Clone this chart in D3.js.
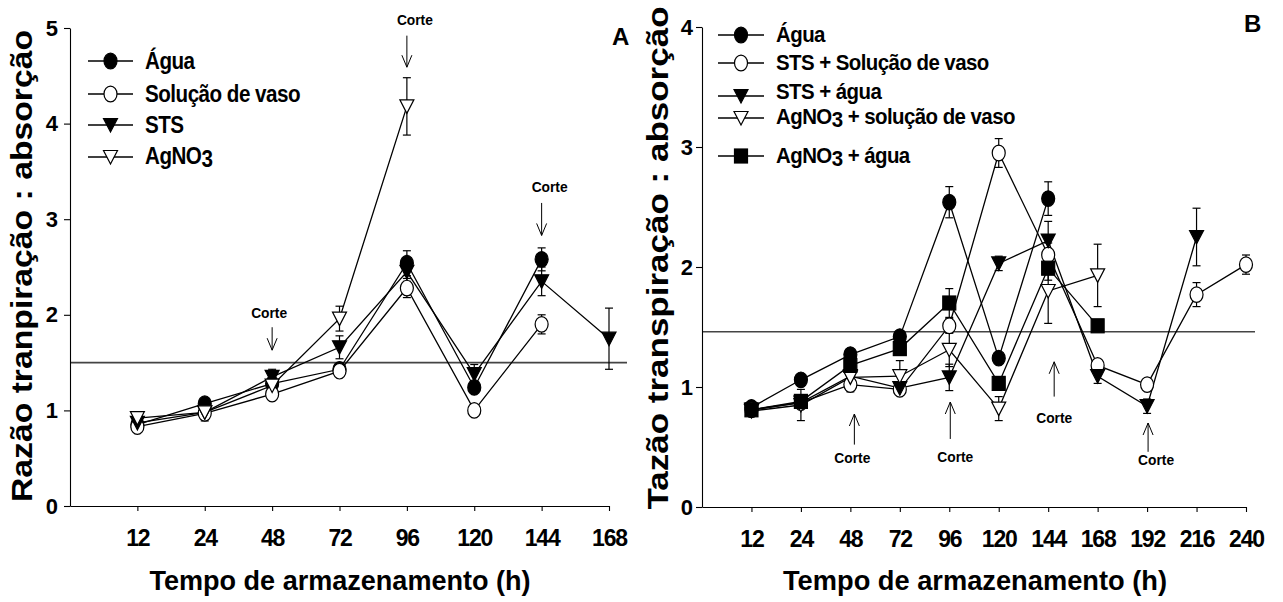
<!DOCTYPE html>
<html><head><meta charset="utf-8">
<script src="https://cdn.jsdelivr.net/npm/d3@7"></script>
<style>
html,body{margin:0;padding:0;background:#fff;}
svg{display:block;font-family:"Liberation Sans",Arial,Helvetica,sans-serif;}
</style></head><body>
<svg id="chart" width="1283" height="602"></svg>
<script>
// ---------- Panel A data ----------
const hoursA = ["12","24","48","72","96","120","144","168"];
const aguaA      = [0.85, 1.07, 1.28, 1.43, 2.54, 1.24, 2.58, null];
const aguaAErr   = [0.03, 0.04, 0.04, 0.03, 0.13, 0.05, 0.12, null];
const solucaoA   = [0.83, 0.97, 1.17, 1.41, 2.28, 1.00, 1.90, null];
const solucaoAErr= [0.03, 0.03, 0.04, 0.04, 0.10, 0.03, 0.10, null];
const stsA       = [0.87, 0.98, 1.35, 1.66, 2.45, 1.38, 2.35, 1.75];
const stsAErr    = [0.03, 0.09, 0.08, 0.12, 0.10, 0.10, 0.15, 0.32];
const agno3A     = [0.92, 0.98, 1.26, 1.96, 4.18, null, null, null];
const agno3AErr  = [0.03, 0.05, 0.05, 0.13, 0.30, null, null, null];
const refA = 1.5;
const yTicksA = [0, 1, 2, 3, 4, 5];

// ---------- Panel B data ----------
const hoursB = ["12","24","48","72","96","120","144","168","192","216","240"];
const aguaB        = [0.83, 1.06, 1.27, 1.42, 2.54, 1.24, 2.57, null, null, null, null];
const aguaBErr     = [0.03, 0.05, 0.04, 0.04, 0.13, 0.04, 0.14, null, null, null, null];
const stsSolB      = [0.81, 0.87, 1.02, 0.98, 1.51, 2.95, 2.10, 1.18, 1.02, 1.77, 2.02];
const stsSolBErr   = [0.03, 0.04, 0.06, 0.04, 0.06, 0.12, 0.10, 0.05, 0.03, 0.10, 0.08];
const stsAguaB     = [0.81, 0.87, 1.09, 0.99, 1.08, 2.03, 2.22, 1.09, 0.84, 2.25, null];
const stsAguaBErr  = [0.02, 0.03, 0.03, 0.03, 0.11, 0.06, 0.16, 0.06, 0.06, 0.24, null];
const agSolB       = [0.80, 0.85, 1.08, 1.09, 1.31, 0.82, 1.80, 1.93, null, null, null];
const agSolBErr    = [0.02, 0.13, 0.03, 0.13, 0.14, 0.10, 0.27, 0.26, null, null, null];
const agAguaB      = [0.81, 0.88, 1.18, 1.32, 1.70, 1.03, 1.99, 1.51, null, null, null];
const agAguaBErr   = [0.02, 0.04, 0.04, 0.04, 0.12, 0.05, 0.10, 0.03, null, null, null];
const refB = 1.46;
const yTicksB = [0, 1, 2, 3, 4];

const svg = d3.select("#chart");
const FONT = '"Liberation Sans",Arial,Helvetica,sans-serif';

// marker shapes
function marker(sel, shape, fill, cx, cy) {
  const g = sel.append("g").attr("transform", `translate(${cx},${cy})`);
  const st = {fill: fill, stroke: "#000", "stroke-width": 1.2};
  let m;
  if (shape === "circle") {
    m = g.append("ellipse").attr("rx", 6.5).attr("ry", 7.8);
  } else if (shape === "tri") {
    m = g.append("path").attr("d", "M-7,-6.5L7,-6.5L0,7Z");
  } else {
    m = g.append("rect").attr("x", -6.5).attr("y", -7).attr("width", 13).attr("height", 14);
  }
  Object.entries(st).forEach(([k, v]) => m.attr(k, v));
}

function drawPanel(cfg) {
  const g = svg.append("g");
  const n = cfg.hours.length;
  const x = d3.scaleLinear().domain([0, n]).range([cfg.x0, cfg.x1]);
  const y = d3.scaleLinear().domain([0, cfg.yTicks[cfg.yTicks.length - 1]]).range([cfg.yBase, cfg.yTop]);
  const xi = i => x(i + 1);

  // reference line
  g.append("line")
    .attr("x1", cfg.x0).attr("x2", cfg.refEnd)
    .attr("y1", y(cfg.ref)).attr("y2", y(cfg.ref))
    .attr("stroke", "#444").attr("stroke-width", 1.6);

  // axes
  const ax = g.append("g").attr("transform", `translate(0,${cfg.yBase})`)
    .call(d3.axisBottom(x).tickValues(d3.range(1, n + 1))
      .tickFormat(i => cfg.hours[i - 1]).tickSizeInner(5).tickSizeOuter(0).tickPadding(19));
  const ay = g.append("g").attr("transform", `translate(${cfg.x0},0)`)
    .call(d3.axisLeft(y).tickValues(cfg.yTicks).tickFormat(d3.format("d"))
      .tickSizeInner(6).tickSizeOuter(0).tickPadding(cfg.yPad));
  [ax, ay].forEach(a => {
    a.attr("font-family", FONT).attr("font-weight", "bold");
    a.selectAll("path,line").attr("stroke", "#000").attr("stroke-width", 1.1);
  });
  ax.attr("font-size", 23);
  ax.selectAll("text").attr("letter-spacing", -1.2);
  ay.attr("font-size", 22);

  // series lines
  cfg.series.forEach(s => {
    const pts = s.values.map((v, i) => ({i, v, e: s.err[i]}));
    const line = d3.line().defined(d => d.v != null).x(d => xi(d.i)).y(d => y(d.v));
    g.append("path").attr("d", line(pts)).attr("fill", "none")
      .attr("stroke", "#000").attr("stroke-width", 1.3);
  });
  // error bars
  cfg.series.forEach(s => {
    s.values.forEach((v, i) => {
      if (v == null || s.err[i] == null) return;
      const cx = xi(i), t = y(v + s.err[i]), b = y(v - s.err[i]);
      const eg = g.append("g").attr("stroke", "#000").attr("stroke-width", 1.2);
      eg.append("line").attr("x1", cx).attr("x2", cx).attr("y1", t).attr("y2", b);
      eg.append("line").attr("x1", cx - 4).attr("x2", cx + 4).attr("y1", t).attr("y2", t);
      eg.append("line").attr("x1", cx - 4).attr("x2", cx + 4).attr("y1", b).attr("y2", b);
    });
  });
  // markers
  cfg.series.forEach(s => {
    s.values.forEach((v, i) => {
      if (v == null) return;
      marker(g, s.shape, s.fill, xi(i), y(v));
    });
  });

  // "Corte" annotations
  cfg.cuts.forEach(c => {
    const ax0 = xi(cfg.hours.indexOf(c.h)) + c.dx;
    const tip = y(c.tip), tail = y(c.tail);
    const dir = tip > tail ? -1 : 1; // head opens back toward the tail
    const ag = g.append("g").attr("stroke", "#000").attr("stroke-width", 1).attr("fill", "none");
    ag.append("line").attr("x1", ax0).attr("x2", ax0).attr("y1", tail).attr("y2", tip);
    ag.append("path").attr("d", `M${ax0 - 5},${tip + dir * 12}L${ax0},${tip}L${ax0 + 5},${tip + dir * 12}`);
    g.append("text").attr("x", ax0 + c.tdx).attr("y", y(c.text))
      .attr("text-anchor", "middle").attr("font-size", 14).attr("font-weight", "bold")
      .attr("textLength", 36).attr("lengthAdjust", "spacingAndGlyphs")
      .text("Corte");
  });

  // legend
  const lg = g.append("g");
  cfg.legend.forEach((r, k) => {
    const s = cfg.series[k];
    lg.append("line").attr("x1", cfg.leg.l1).attr("x2", cfg.leg.l2)
      .attr("y1", r.my).attr("y2", r.my).attr("stroke", "#000").attr("stroke-width", 1.3);
    marker(lg, s.shape, s.fill, (cfg.leg.l1 + cfg.leg.l2) / 2, r.my);
    const t = lg.append("text")
      .attr("transform", `translate(${cfg.leg.tx},${r.ty}) scale(${cfg.leg.sx},1)`)
      .attr("font-size", cfg.leg.fs).attr("font-weight", "bold").attr("letter-spacing", -0.6);
    r.parts.forEach(p => {
      const ts = t.append("tspan").text(p.t);
      if (p.sub) ts.attr("dy", 3);
      if (p.back) ts.attr("dy", -3);
    });
  });

  // axis titles
  g.append("text")
    .attr("transform", `translate(${cfg.ytx},${cfg.yty}) rotate(-90)`)
    .attr("text-anchor", "middle").attr("font-size", 30).attr("font-weight", "bold")
    .attr("textLength", cfg.ytLen).attr("lengthAdjust", "spacingAndGlyphs")
    .text(cfg.yTitle);
  g.append("text").attr("x", cfg.xtx).attr("y", 590)
    .attr("text-anchor", "middle").attr("font-size", 28).attr("font-weight", "bold")
    .attr("textLength", cfg.xtLen).attr("lengthAdjust", "spacingAndGlyphs")
    .text("Tempo de armazenamento (h)");

  // panel letter
  g.append("text").attr("x", cfg.lx).attr("y", cfg.ly)
    .attr("font-size", 24).attr("font-weight", "bold").text(cfg.letter);
}

drawPanel({
  hours: hoursA, yTicks: yTicksA, ref: refA,
  x0: 70, x1: 609, yBase: 506, yTop: 28, refEnd: 627, yPad: 6,
  series: [
    {values: aguaA, err: aguaAErr, shape: "circle", fill: "#000"},
    {values: solucaoA, err: solucaoAErr, shape: "circle", fill: "#fff"},
    {values: stsA, err: stsAErr, shape: "tri", fill: "#000"},
    {values: agno3A, err: agno3AErr, shape: "tri", fill: "#fff"}
  ],
  legend: [
    {my: 61, ty: 69, parts: [{t: "Água"}]},
    {my: 94, ty: 102, parts: [{t: "Solução de vaso"}]},
    {my: 125, ty: 133, parts: [{t: "STS"}]},
    {my: 157, ty: 164, parts: [{t: "AgNO"}, {t: "3", sub: true}]}
  ],
  leg: {l1: 88, l2: 133, tx: 145, fs: 24, sx: 0.86},
  cuts: [
    {h: "48", tip: 1.63, tail: 1.87, text: 1.97, dx: 0, tdx: -3},
    {h: "96", tip: 4.59, tail: 4.92, text: 5.03, dx: 0, tdx: 8},
    {h: "144", tip: 2.83, tail: 3.17, text: 3.28, dx: 0, tdx: 8}
  ],
  yTitle: "Razão tranpiração : absorção", ytx: 32, yty: 266, ytLen: 472,
  xtx: 340, xtLen: 381,
  letter: "A", lx: 612, ly: 45
});

drawPanel({
  hours: hoursB, yTicks: yTicksB, ref: refB,
  x0: 702, x1: 1246, yBase: 507, yTop: 27, refEnd: 1255, yPad: 3,
  series: [
    {values: aguaB, err: aguaBErr, shape: "circle", fill: "#000"},
    {values: stsSolB, err: stsSolBErr, shape: "circle", fill: "#fff"},
    {values: stsAguaB, err: stsAguaBErr, shape: "tri", fill: "#000"},
    {values: agSolB, err: agSolBErr, shape: "tri", fill: "#fff"},
    {values: agAguaB, err: agAguaBErr, shape: "square", fill: "#000"}
  ],
  legend: [
    {my: 35, ty: 42, parts: [{t: "Água"}]},
    {my: 63, ty: 70, parts: [{t: "STS + Solução de vaso"}]},
    {my: 96, ty: 99, parts: [{t: "STS + água"}]},
    {my: 118, ty: 124, parts: [{t: "AgNO"}, {t: "3", sub: true}, {t: " + solução de vaso", back: true}]},
    {my: 156, ty: 163, parts: [{t: "AgNO"}, {t: "3", sub: true}, {t: " + água", back: true}]}
  ],
  leg: {l1: 718, l2: 764, tx: 776, fs: 22, sx: 0.93},
  cuts: [
    {h: "48", tip: 0.775, tail: 0.52, text: 0.37, dx: 4, tdx: -2},
    {h: "96", tip: 0.875, tail: 0.567, text: 0.375, dx: 1, tdx: 5},
    {h: "144", tip: 1.21, tail: 0.92, text: 0.70, dx: 6, tdx: 0},
    {h: "192", tip: 0.70, tail: 0.46, text: 0.35, dx: 1, tdx: 8}
  ],
  yTitle: "Tazão transpiração : absorção", ytx: 668, yty: 258, ytLen: 503,
  xtx: 975, xtLen: 384,
  letter: "B", lx: 1244, ly: 32
});
</script>
</body></html>
